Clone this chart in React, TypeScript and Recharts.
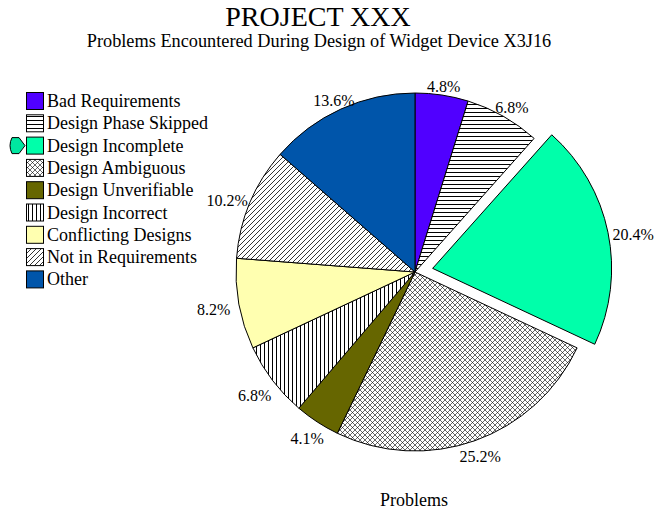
import React from "react";
import { PieChart, Pie, Cell } from "recharts";

const CATEGORIES = [
  "Bad Requirements",
  "Design Phase Skipped",
  "Design Incomplete",
  "Design Ambiguous",
  "Design Unverifiable",
  "Design Incorrect",
  "Conflicting Designs",
  "Not in Requirements",
  "Other",
];
const PERCENTS = [4.8, 6.8, 20.4, 25.2, 4.1, 6.8, 8.2, 10.2, 13.6];
const TITLE = "PROJECT XXX";
const SUBTITLE = "Problems Encountered During Design of Widget Device X3J16";
const SERIES_NAME = "Problems";
const EXPLODED = 2;

const FILLS = [
  "#5000ff",
  "url(#pHoriz)",
  "#00ffaa",
  "url(#pCross)",
  "#666600",
  "url(#pVert)",
  "#ffffb0",
  "url(#pDiag)",
  "#0055aa",
];

const FONT = "'Liberation Serif', 'Times New Roman', serif";
const W = 654;
const H = 510;
const CX = 415;
const CY = 272;
const R = 179;
const EXPLODE_DIST = 18;
const RAD = Math.PI / 180;

const data = CATEGORIES.map((name, i) => ({ name, value: PERCENTS[i] }));

// where the exploded slice sits (angle measured clockwise from 12 o'clock)
const total = PERCENTS.reduce((a, b) => a + b, 0);
const before = PERCENTS.slice(0, EXPLODED).reduce((a, b) => a + b, 0);
const midDeg = ((before + PERCENTS[EXPLODED] / 2) / total) * 360;
const ex = CX + EXPLODE_DIST * Math.sin(midDeg * RAD);
const ey = CY - EXPLODE_DIST * Math.cos(midDeg * RAD);

function makeLabel(only: (i: number) => boolean) {
  return (props: any) => {
    const { cx, cy, midAngle, outerRadius, index, value } = props;
    if (!only(index)) return null;
    const a = -midAngle * RAD;
    const s = Math.abs(Math.cos(a));
    const rr = outerRadius + 10 + 16 * s;
    const x = cx + rr * Math.cos(a);
    let y = cy + rr * Math.sin(a);
    // labels above the centre sit a little lower, hugging the rim
    y += y < cy ? (s < 0.3 ? 4 : 7) : 1;
    return (
      <text
        key={`lbl-${index}`}
        x={x}
        y={y}
        textAnchor="middle"
        dominantBaseline="central"
        fontFamily={FONT}
        fontSize={16}
        fill="#000"
      >
        {value.toFixed(1)}%
      </text>
    );
  };
}

function LegendBox({ x, y }: { x: number; y: number }) {
  const step = 22.3;
  const py = y + EXPLODED * step;
  return (
    <g>
      {CATEGORIES.map((name, i) => {
        const ry = y + i * step;
        return (
          <g key={name}>
            <rect x={x + 0.5} y={ry + 0.5} width={17} height={17} fill={FILLS[i]} stroke="#000" />
            <text x={x + 21} y={ry + 9} dominantBaseline="central" fontFamily={FONT} fontSize={18} fill="#000">
              {name}
            </text>
          </g>
        );
      })}
      {/* selection pointer next to the exploded item */}
      <path
        d={`M${x - 14},${py + 1} L${x - 7},${py + 1} L${x - 1},${py + 9} L${x - 7},${py + 17} L${x - 14},${py + 17} Q${x - 18},${py + 9} ${x - 14},${py + 1} Z`}
        fill="#00e6a0"
        stroke="#000"
      />
    </g>
  );
}

export default function App() {
  return (
    <div style={{ position: "absolute", left: 0, top: 0, width: W, height: H, background: "#fff" }}>
      <PieChart width={W} height={H} margin={{ top: 0, right: 0, bottom: 0, left: 0 }}>
        <defs>
          <pattern id="pHoriz" width="4" height="4" patternUnits="userSpaceOnUse">
            <rect width="4" height="4" fill="#fff" />
            <line x1="0" y1="0.5" x2="4" y2="0.5" stroke="#000" strokeWidth="1" />
          </pattern>
          <pattern id="pVert" width="4" height="4" patternUnits="userSpaceOnUse">
            <rect width="4" height="4" fill="#fff" />
            <line x1="0.5" y1="0" x2="0.5" y2="4" stroke="#000" strokeWidth="1" />
          </pattern>
          <pattern id="pDiag" width="5" height="5" patternUnits="userSpaceOnUse">
            <rect width="5" height="5" fill="#fff" />
            <path d="M0,5 L5,0 M-1,1 L1,-1 M4,6 L6,4" stroke="#000" strokeWidth="0.8" />
          </pattern>
          <pattern id="pCross" width="5" height="5" patternUnits="userSpaceOnUse">
            <rect width="5" height="5" fill="#fff" />
            <path d="M0,5 L5,0 M-1,1 L1,-1 M4,6 L6,4 M0,0 L5,5 M-1,4 L1,6 M4,-1 L6,1" stroke="#000" strokeWidth="0.6" />
          </pattern>
        </defs>
        <text x={318} y={16} textAnchor="middle" dominantBaseline="central" fontFamily={FONT} fontSize={28} fill="#000">
          {TITLE}
        </text>
        <text x={319} y={41} textAnchor="middle" dominantBaseline="central" fontFamily={FONT} fontSize={18.3} fill="#000">
          {SUBTITLE}
        </text>
        <text x={414} y={500} textAnchor="middle" dominantBaseline="central" fontFamily={FONT} fontSize={18} fill="#000">
          {SERIES_NAME}
        </text>
        <Pie
          data={data}
          dataKey="value"
          nameKey="name"
          cx={CX}
          cy={CY}
          outerRadius={R}
          startAngle={90}
          endAngle={-270}
          labelLine={false}
          label={makeLabel((i) => i !== EXPLODED)}
          isAnimationActive={false}
        >
          {data.map((d, i) => (
            <Cell
              key={d.name}
              fill={i === EXPLODED ? "none" : FILLS[i]}
              stroke={i === EXPLODED ? "none" : "#000"}
              strokeWidth={1}
            />
          ))}
        </Pie>
        <Pie
          data={data}
          dataKey="value"
          nameKey="name"
          cx={ex}
          cy={ey}
          outerRadius={R}
          startAngle={90}
          endAngle={-270}
          labelLine={false}
          label={makeLabel((i) => i === EXPLODED)}
          isAnimationActive={false}
        >
          {data.map((d, i) => (
            <Cell
              key={d.name}
              fill={i === EXPLODED ? FILLS[i] : "none"}
              stroke={i === EXPLODED ? "#000" : "none"}
              strokeWidth={1}
            />
          ))}
        </Pie>
        <LegendBox x={26} y={92} />
      </PieChart>
    </div>
  );
}
